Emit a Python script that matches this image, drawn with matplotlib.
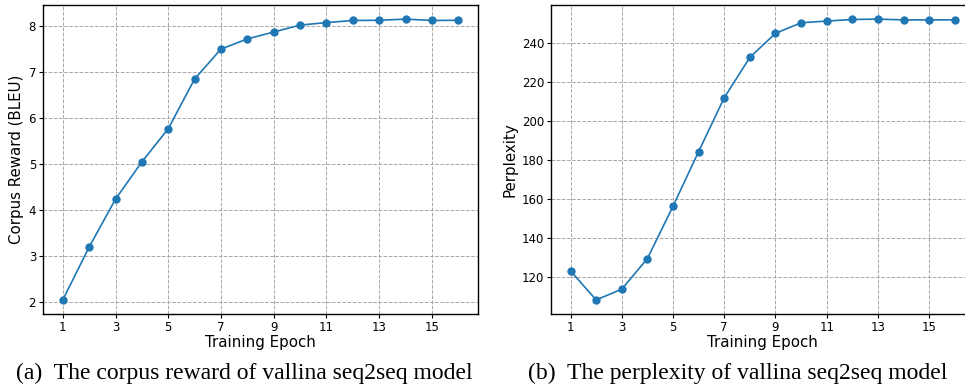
import numpy as np
import matplotlib
matplotlib.use("Agg")
import matplotlib.pyplot as plt

# ==========================================
# DATOS
# ==========================================
epochs = np.arange(1, 17)
bleu = [2.04, 3.19, 4.23, 5.04, 5.76, 6.84, 7.49, 7.71, 7.86, 8.01,
        8.065, 8.11, 8.115, 8.14, 8.11, 8.115]
perplexity = [122.9, 108.0, 113.5, 129.2, 156.1, 184.2, 211.9, 232.6, 245.0,
              250.4, 251.3, 252.1, 252.3, 251.9, 251.9, 251.9]
xticks = [1, 3, 5, 7, 9, 11, 13, 15]
bleu_ticks = [2, 3, 4, 5, 6, 7, 8]
ppl_ticks = [120, 140, 160, 180, 200, 220, 240]

caption_a = "(a)  The corpus reward of vallina seq2seq model"
caption_b = "(b)  The perplexity of vallina seq2seq model"

color = "#1f77b4"

# ==========================================
# FIGURA
# ==========================================
fig = plt.figure(figsize=(9.65, 3.9), dpi=100)

ax1 = fig.add_axes([0.0446, 0.195, 0.4508, 0.792])
ax2 = fig.add_axes([0.5713, 0.195, 0.438, 0.792])


def style(ax):
    ax.grid(True, linestyle="--", color="#a8a8a8", linewidth=0.7)
    ax.set_axisbelow(True)
    ax.tick_params(labelsize=8.5, length=3, pad=2)
    ax.set_xticks(xticks)
    for s in ax.spines.values():
        s.set_linewidth(1.0)


# ==========================================
# GRÁFICA (a): RECOMPENSA
# ==========================================
ax1.plot(epochs, bleu, "-o", color=color, markersize=5, linewidth=1.2)
style(ax1)
ax1.set_yticks(bleu_ticks)
ax1.set_xlabel("Training Epoch", fontsize=10.8, labelpad=1)
ax1.set_ylabel("Corpus Reward (BLEU)", fontsize=10.8, labelpad=3)

# ==========================================
# GRÁFICA (b): PERPLEJIDAD
# ==========================================
ax2.plot(epochs, perplexity, "-o", color=color, markersize=5, linewidth=1.2)
style(ax2)
ax2.set_yticks(ppl_ticks)
ax2.set_xlabel("Training Epoch", fontsize=10.8, labelpad=1)
ax2.set_ylabel("Perplexity", fontsize=10.8, labelpad=3)

# ==========================================
# LEYENDAS DE FIGURA
# ==========================================
fig.text(0.2528, 0.043, caption_a, ha="center", va="center",
         family="Liberation Serif", fontsize=17)
fig.text(0.764, 0.043, caption_b, ha="center", va="center",
         family="Liberation Serif", fontsize=17)

fig.savefig("out.png", dpi=100)
